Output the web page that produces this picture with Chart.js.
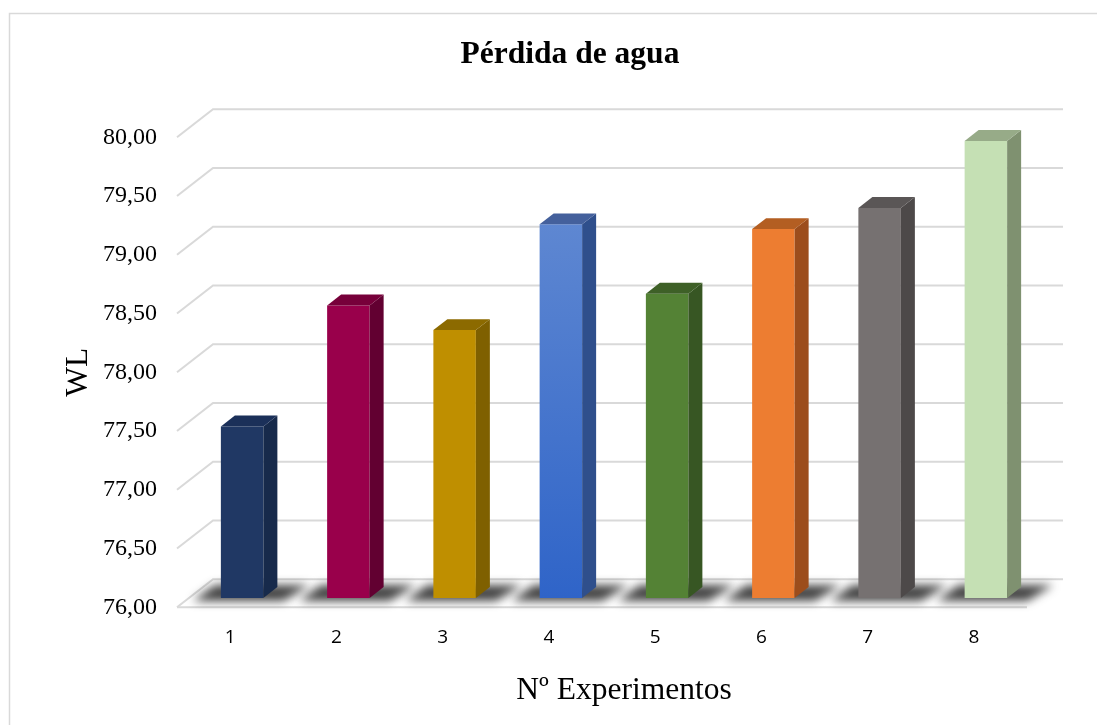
<!DOCTYPE html>
<html>
<head>
<meta charset="utf-8">
<title>Pérdida de agua</title>
<script src="https://cdn.jsdelivr.net/npm/chart.js@4.4.1/dist/chart.umd.min.js"></script>
<style>
  html, body { margin: 0; padding: 0; background: #fff; }
  #wrap { width: 1097px; height: 725px; position: relative; }
</style>
</head>
<body>
<div id="wrap"><canvas id="c"></canvas></div>
<script>
// ---- data ----
const experimentos = ['1', '2', '3', '4', '5', '6', '7', '8'];
const perdidaAgua = [77.46, 78.49, 78.28, 79.18, 78.59, 79.14, 79.32, 79.89];
const yMin = 76;
const yMax = 80;
const yStep = 0.5;
const chartTitle = 'Pérdida de agua';
const xTitle = 'Nº Experimentos';
const yTitle = 'WL';

// ---- colours per bar: front face, right side, top ----
const frontColors = ['#203864', '#99004B', '#BF8F00', '#4F7BCF', '#548235', '#ED7D31', '#767171', '#C5E0B4'];
const sideColors  = ['#172A4B', '#620031', '#7F6000', '#2F4F8C', '#375623', '#9C4D1C', '#4D4949', '#7F9170'];
const topColors   = ['#1B3059', '#77003A', '#8C6A00', '#44609C', '#3E6027', '#B35E22', '#5A5656', '#97AB88'];

// ---- 3D geometry (pixels) ----
const DEPTH = { dx: 36, dy: -28 };       // full depth of floor / side wall
const BAR_SHIFT = { dx: 12, dy: -9.3 };  // bar front face sits one third into the depth
const BAR_DEPTH = { dx: 14, dy: -10.9 }; // depth of each bar block
const GRID_COLOR = '#D9D9D9';

function fmt(v) { return v.toFixed(2).replace('.', ','); }

function frontFill(context) {
  const i = context.dataIndex;
  if (i === 3) {
    const area = context.chart.chartArea;
    if (!area) return frontColors[i];
    const g = context.chart.ctx.createLinearGradient(0, area.top, 0, area.bottom);
    g.addColorStop(0, '#6A90D4');
    g.addColorStop(1, '#2F64C8');
    return g;
  }
  return frontColors[i];
}

const box3d = {
  id: 'box3d',
  beforeDraw(chart) {
    const ctx = chart.ctx;
    ctx.save();
    ctx.fillStyle = '#ffffff';
    ctx.fillRect(0, 0, chart.width, chart.height);
    ctx.strokeStyle = GRID_COLOR;
    ctx.lineWidth = 1.5;
    ctx.strokeRect(9.5, 13.5, chart.width + 40, chart.height + 40);
    ctx.restore();
  },
  beforeDatasetsDraw(chart) {
    const { ctx, chartArea: a, scales: { y } } = chart;
    ctx.save();
    ctx.strokeStyle = GRID_COLOR;
    ctx.lineWidth = 2;
    // gridlines on the back wall, joined to the front edge by the side returns
    y.ticks.forEach(t => {
      const py = y.getPixelForValue(t.value);
      ctx.beginPath();
      ctx.moveTo(a.left, py);
      ctx.lineTo(a.left + DEPTH.dx, py + DEPTH.dy);
      ctx.lineTo(a.right + DEPTH.dx, py + DEPTH.dy);
      ctx.stroke();
    });
    // front edge of the floor
    ctx.beginPath();
    ctx.moveTo(a.left, a.bottom);
    ctx.lineTo(a.right, a.bottom);
    ctx.stroke();
    ctx.restore();

    // bars live inside the depth: shift the drawing plane
    ctx.save();
    ctx.translate(BAR_SHIFT.dx, BAR_SHIFT.dy);

    // soft shadows on the floor around each bar
    const meta = chart.getDatasetMeta(0);
    ctx.save();
    ctx.filter = 'blur(5px)';
    ctx.fillStyle = 'rgba(35,35,35,0.85)';
    meta.data.forEach(bar => {
      const { x, width, base } = bar.getProps(['x', 'width', 'base'], true);
      const l = x - width / 2, r = x + width / 2;
      ctx.beginPath();
      ctx.moveTo(l - 28, base + 3);
      ctx.lineTo(r + 20, base + 3);
      ctx.lineTo(r + BAR_DEPTH.dx + 32, base + BAR_DEPTH.dy - 2);
      ctx.lineTo(l + BAR_DEPTH.dx - 20, base + BAR_DEPTH.dy - 2);
      ctx.closePath();
      ctx.fill();
    });
    ctx.restore();
  },
  afterDatasetsDraw(chart) {
    const ctx = chart.ctx;
    const meta = chart.getDatasetMeta(0);
    meta.data.forEach((bar, i) => {
      const { x, y, width, base } = bar.getProps(['x', 'y', 'width', 'base'], true);
      const l = x - width / 2, r = x + width / 2;
      // right side face
      ctx.fillStyle = sideColors[i];
      ctx.beginPath();
      ctx.moveTo(r, base);
      ctx.lineTo(r + BAR_DEPTH.dx, base + BAR_DEPTH.dy);
      ctx.lineTo(r + BAR_DEPTH.dx, y + BAR_DEPTH.dy);
      ctx.lineTo(r, y);
      ctx.closePath();
      ctx.fill();
      // top face
      ctx.fillStyle = topColors[i];
      ctx.beginPath();
      ctx.moveTo(l, y);
      ctx.lineTo(r, y);
      ctx.lineTo(r + BAR_DEPTH.dx, y + BAR_DEPTH.dy);
      ctx.lineTo(l + BAR_DEPTH.dx, y + BAR_DEPTH.dy);
      ctx.closePath();
      ctx.fill();
    });
    ctx.restore();
  },
  afterDraw(chart) {
    const ctx = chart.ctx;
    ctx.save();
    ctx.fillStyle = '#000';
    ctx.textAlign = 'center';
    ctx.textBaseline = 'alphabetic';
    ctx.font = 'bold 31.5px "Liberation Serif", "Times New Roman", serif';
    ctx.fillText(chartTitle, 570, 63);
    ctx.font = '31.5px "Liberation Serif", "Times New Roman", serif';
    ctx.fillText(xTitle, 624, 699);
    ctx.restore();
  }
};

new Chart(document.getElementById('c'), {
  type: 'bar',
  data: {
    labels: experimentos,
    datasets: [{
      label: yTitle,
      data: perdidaAgua,
      base: yMin,
      backgroundColor: frontFill,
      borderWidth: 0,
      barPercentage: 0.4,
      categoryPercentage: 1.0
    }]
  },
  options: {
    responsive: true,
    maintainAspectRatio: false,
    animation: false,
    layout: { padding: { left: 0, right: 70, top: 137.3, bottom: 0 } },
    plugins: {
      legend: { display: false },
      title: { display: false },
      tooltip: { enabled: false }
    },
    scales: {
      x: {
        offset: true,
        grid: { display: false, drawTicks: false },
        border: { display: false },
        ticks: {
          padding: 19,
          color: '#000',
          font: { family: '"Open Sans", "Liberation Sans", sans-serif', size: 19 }
        },
        afterFit(scale) { scale.height = 117.7; }
      },
      y: {
        min: yMin,
        max: yMax,
        grid: { display: false, drawTicks: false },
        border: { display: false },
        ticks: {
          stepSize: yStep,
          padding: 20,
          color: '#000',
          font: { family: '"Liberation Serif", "Times New Roman", serif', size: 24 },
          callback: v => fmt(v)
        },
        title: {
          display: true,
          text: yTitle,
          color: '#000',
          font: { family: '"Liberation Serif", "Times New Roman", serif', size: 31.5 },
          padding: { top: 59.4, bottom: 0 }
        },
        afterFit(scale) { scale.width = 177; }
      }
    }
  },
  plugins: [box3d]
});
</script>
</body>
</html>
